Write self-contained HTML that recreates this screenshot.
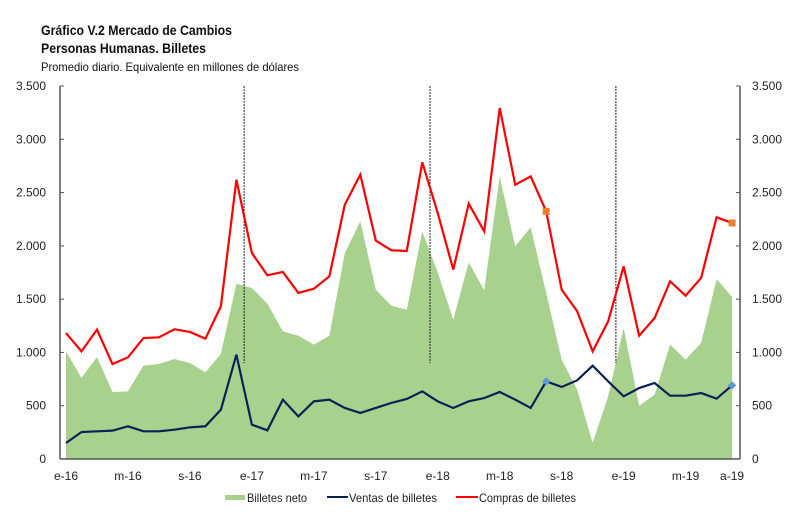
<!DOCTYPE html>
<html><head><meta charset="utf-8"><style>
body{margin:0;background:#fff;width:800px;height:512px;overflow:hidden}
svg{display:block;font-family:"Liberation Sans Narrow","Liberation Sans",sans-serif}
</style></head><body>
<svg id="chart" width="800" height="512" viewBox="0 0 800 512" xmlns="http://www.w3.org/2000/svg">
<text x="41" y="35" font-size="14" font-weight="bold" fill="#111" textLength="191" lengthAdjust="spacingAndGlyphs">Gráfico V.2 Mercado de Cambios</text>
<text x="41" y="53" font-size="14" font-weight="bold" fill="#111" textLength="165" lengthAdjust="spacingAndGlyphs">Personas Humanas. Billetes</text>
<text x="41" y="71" font-size="12" fill="#111" textLength="258" lengthAdjust="spacingAndGlyphs">Promedio diario. Equivalente en millones de dólares</text>
<g id="plot"></g>
<g>
<rect x="225" y="495" width="20" height="5" fill="#a9d18e"/>
<text x="247" y="502" font-size="12" fill="#222" textLength="60" lengthAdjust="spacingAndGlyphs">Billetes neto</text>
<line x1="327" y1="497" x2="348" y2="497" stroke="#0b2156" stroke-width="2"/>
<text x="349" y="502" font-size="12" fill="#222" textLength="88" lengthAdjust="spacingAndGlyphs">Ventas de billetes</text>
<line x1="456" y1="497" x2="478" y2="497" stroke="#f00" stroke-width="2"/>
<text x="479" y="502" font-size="12" fill="#222" textLength="97" lengthAdjust="spacingAndGlyphs">Compras de billetes</text>
</g>
</svg>
<script>
const neto=[1010,760,957,629,635,876,891,938,901,813,988,1645,1605,1458,1198,1157,1073,1157,1933,2230,1589,1439,1401,2136,1750,1307,1845,1583,2652,1996,2174,1558,932,651,150,588,1229,500,604,1073,932,1089,1689,1520];
const ventas=[150,253,260,266,307,260,260,275,297,307,463,979,322,269,557,400,541,557,479,432,479,526,563,635,541,479,541,572,629,557,479,729,676,738,876,729,588,666,713,594,594,619,566,691];
const compras=[1182,1010,1214,891,954,1135,1142,1217,1192,1129,1433,2621,1933,1724,1755,1558,1598,1714,2387,2668,2049,1959,1952,2784,2308,1777,2396,2136,3294,2574,2652,2324,1589,1386,1010,1292,1808,1157,1323,1667,1533,1699,2268,2215];
const xLabels=["e-16","m-16","s-16","e-17","m-17","s-17","e-18","m-18","s-18","e-19","m-19","a-19"];
const xLabelIdx=[0,4,8,12,16,20,24,28,32,36,40,43];
const yTicks=[0,500,1000,1500,2000,2500,3000,3500];
const yearLineIdx=[11.5,23.5,35.5];
const markerIdx=[31,43];

const NS="http://www.w3.org/2000/svg";
const g=document.getElementById('plot');
const X0=66,STEP=15.49,Y0=459,YS=0.10657;
const x=i=>X0+i*STEP, y=v=>Y0-v*YS;
function mk(t,a){const e=document.createElementNS(NS,t);for(const k in a)e.setAttribute(k,a[k]);g.appendChild(e);return e;}

let d=`M${x(0)},${y(0)}`;neto.forEach((v,i)=>d+=`L${x(i)},${y(v)}`);d+=`L${x(neto.length-1)},${y(0)}Z`;
const area=mk('path',{d,fill:'#a9d18e'});



yearLineIdx.forEach((i,k)=>{const l=mk('line',{x1:x(i),x2:x(i),y1:86,y2:y(900),stroke:'#222','stroke-width':1,'stroke-dasharray':'2,1'});

});

function line(arr,col,name){const p=mk('polyline',{points:arr.map((v,i)=>x(i)+','+y(v)).join(' '),fill:'none',stroke:col,'stroke-width':2.2,'stroke-linejoin':'miter'});

}
line(compras,'#f00','compras-line');
line(ventas,'#0b2156','ventas-line');

markerIdx.forEach(i=>{const s=mk('rect',{x:x(i)-3.5,y:y(compras[i])-3.5,width:7,height:7,fill:'#ed7d31'});


const dm=mk('rect',{x:x(i)-3,y:y(ventas[i])-3,width:6,height:6,fill:'#5b9bd5',transform:`rotate(45 ${x(i)} ${y(ventas[i])})`});

});

const la=mk('line',{x1:60,x2:60,y1:86,y2:Y0,stroke:'#555','stroke-width':1.5});


const ra=mk('line',{x1:740,x2:740,y1:86,y2:Y0,stroke:'#555','stroke-width':1.5});


const xa=mk('line',{x1:60,x2:740,y1:Y0,y2:Y0,stroke:'#555','stroke-width':1.5});


yTicks.forEach(v=>{
 const lbl=v===0?'0':v.toLocaleString('de-DE');
 mk('line',{x1:60,x2:64,y1:y(v),y2:y(v),stroke:'#555'});
 mk('line',{x1:736,x2:740,y1:y(v),y2:y(v),stroke:'#555'});
 const t=mk('text',{x:46,y:y(v)+4,'text-anchor':'end','font-size':12,fill:'#222'});t.textContent=lbl;
 
 
 const t2=mk('text',{x:752,y:y(v)+4,'font-size':12,fill:'#222'});t2.textContent=lbl;
 
 
});
xLabels.forEach((s,k)=>{const t=mk('text',{x:x(xLabelIdx[k]),y:480,'text-anchor':'middle','font-size':12,fill:'#222'});t.textContent=s;

});
</script>
</body></html>
